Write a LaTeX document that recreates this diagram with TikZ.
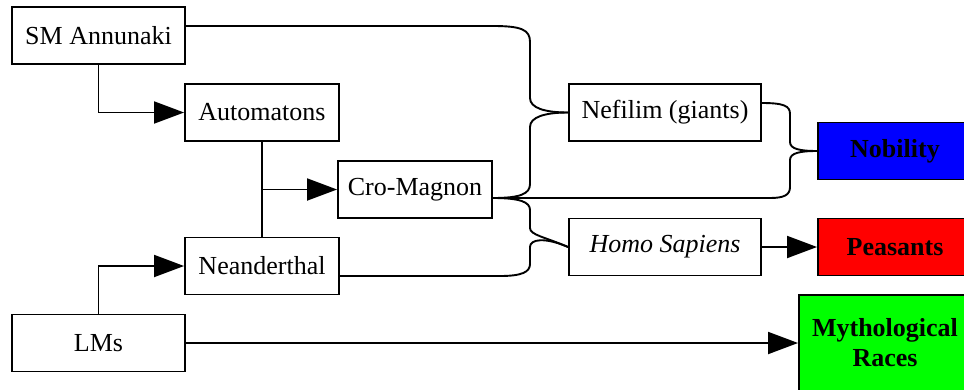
\documentclass[tikz,border=0pt]{standalone}
\usepackage{fontspec}
\setmainfont{Liberation Serif}
\usetikzlibrary{arrows.meta,calc}
\begin{document}
\begin{tikzpicture}[x=1pt,y=-1pt,
 box/.style={draw,line width=1.9pt,inner sep=0pt,minimum height=57pt,font=\fontsize{26}{30}\selectfont,align=center},
 ln/.style={line width=1.9pt},
 arr/.style={ln,-{Triangle[length=30pt,width=22pt]}}]
\clip (0,0) rectangle (964,389);
\node[box,minimum width=173pt] (sm) at (98.5,35.5) {SM Annunaki};
\node[box,minimum width=154pt] (aut) at (262,112.5) {Automatons};
\node[box,minimum width=154pt] (cro) at (415,189.5) {Cro-Magnon};
\node[box,minimum width=154pt] (nea) at (262,266) {Neanderthal};
\node[box,minimum width=173pt] (lms) at (98.5,343) {LMs};
\node[box,minimum width=192pt] (nef) at (665,112.5) {Nefilim (giants)};
\node[box,minimum width=192pt] (hs) at (665,247) {\itshape Homo Sapiens};
\node[box,fill=blue,minimum width=154pt] (nob) at (895,151) {\bfseries Nobility};
\node[box,fill=red,minimum width=154pt] (pea) at (895,247) {\bfseries Peasants};
\node[box,fill=green,minimum width=172pt,minimum height=96pt] (myth) at (885,343) {\bfseries Mythological\\\bfseries Races};
% straight connectors
\draw[arr] (sm.south) |- (aut.west);
\draw[arr] (lms.north) |- (nea.west);
\draw[ln] (aut.south) -- (nea.north);
\coordinate (j) at (aut.south |- cro.west);
\draw[arr] (j) -- (cro.west);
\draw[arr] (lms.east) -- (myth.west);
\draw[arr] (hs.east) -- (pea.west);
% merged connectors
\draw[ln] ([yshift=9.5pt]sm.east) -- (493,26) .. controls (522,26) and (530,30) .. (530,42) -- (530,98) .. controls (530,108) and (545,112.5) .. (nef.west);
\draw[ln] ([yshift=-8.5pt]cro.east) .. controls (520,198) and (530,194) .. (530,184) -- (530,127) .. controls (530,117) and (545,112.5) .. (nef.west);
\draw[ln] ([yshift=-8.5pt]cro.east) -- (770,198) .. controls (784,198) and (790,195) .. (790,187) -- (790,160) .. controls (790,153) and (800,151) .. (nob.west);
\draw[ln] ([yshift=9.5pt]nef.east) .. controls (784,103) and (790,106) .. (790,114) -- (790,142) .. controls (790,149) and (800,151) .. (nob.west);
\draw[ln] ([yshift=-8.5pt]cro.east) .. controls (520,198) and (530,202) .. (530,210) -- (530,228) .. controls (530,235) and (545,237) .. (hs.west);
\draw[ln] ([yshift=-10pt]nea.east) -- (500,276) .. controls (522,276) and (530,272) .. (530,264) -- (530,247) .. controls (530,239) and (545,237) .. (hs.west);
\end{tikzpicture}
\end{document}
